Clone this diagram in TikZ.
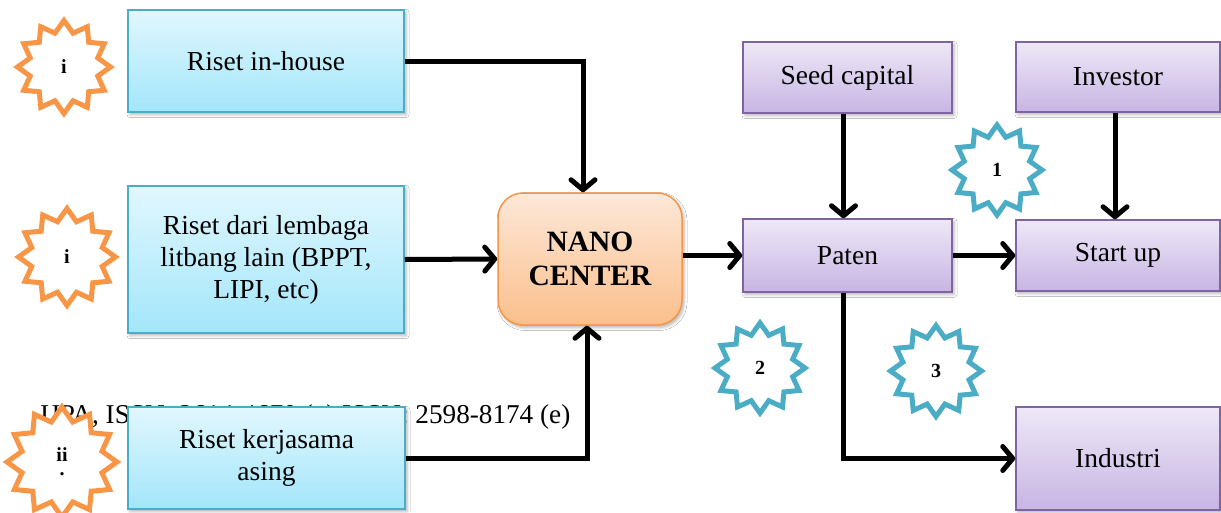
\documentclass[tikz,border=0pt]{standalone}
\usepackage{fontspec}
\setmainfont{Liberation Serif}
\usetikzlibrary{arrows.meta,shapes.geometric,shadows.blur}
\definecolor{orng}{HTML}{F79646}
\definecolor{cyanstar}{HTML}{4BACC6}
\definecolor{bluetop}{HTML}{E1F7FE}
\definecolor{bluebot}{HTML}{A3E6FA}
\definecolor{blueline}{HTML}{4BACC6}
\definecolor{purtop}{HTML}{EEE8F7}
\definecolor{purbot}{HTML}{C7B5E3}
\definecolor{purline}{HTML}{8064A2}
\definecolor{ortop}{HTML}{FDE8D8}
\definecolor{orbot}{HTML}{FBBF8C}
\begin{document}
\begin{tikzpicture}[x=1pt,y=-1pt,
  shad/.style={blur shadow={shadow xshift=2pt,shadow yshift=-2.5pt,shadow blur radius=3pt,shadow opacity=30}},
  boxbase/.style={line width=1.5pt, align=center, inner sep=0pt, shad,
    font=\fontsize{27.5}{32}\selectfont},
  bluebox/.style={boxbase, draw=blueline, top color=bluetop, bottom color=bluebot},
  purbox/.style={boxbase, draw=purline, top color=purtop, bottom color=purbot},
  nanobox/.style={boxbase, draw=orng, top color=ortop, bottom color=orbot,
    rounded corners=25pt, font=\bfseries\fontsize{29.5}{34}\selectfont},
  starbase/.style={star, star points=12, star point ratio=1.33, fill=white,
    line width=5pt, inner sep=0pt, align=center,
    font=\bfseries\fontsize{20}{20}\selectfont},
  staro/.style={starbase, draw=orng},
  starb/.style={starbase, draw=cyanstar},
  conn/.style={line width=5pt, draw=black, -{Straight Barb[length=10pt,width=24pt,round]}},
  journal/.style={anchor=base west, inner sep=0pt, font=\fontsize{27.2}{30}\selectfont}
]
\useasboundingbox (0,0) rectangle (1221,512);
\fill[white] (0,0) rectangle (1221,512);

\node[journal] (jrnl) at (40,423) {IJPA, ISSN: 2614-4670 (p) ISSN: 2598-8174 (e)};

% left boxes
\node[bluebox, minimum width=276pt, minimum height=102pt] (inhouse) at (266,61) {Riset in-house};
\node[bluebox, minimum width=276pt, minimum height=147pt] (lembaga) at (266,259.5) {Riset dari lembaga\\litbang lain (BPPT,\\LIPI, etc)};
\node[bluebox, minimum width=277pt, minimum height=102pt] (kerjasama) at (266.5,458) {Riset kerjasama\\asing};

% centre
\node[nanobox, minimum width=184pt, minimum height=132pt] (nano) at (590,259) {NANO\\CENTER};

% right boxes
\node[purbox, minimum width=209pt, minimum height=71pt] (seed) at (847.5,77.5) {Seed capital};
\node[purbox, minimum width=209pt, minimum height=73pt] (paten) at (847.5,255.5) {Paten};
\node[purbox, minimum width=204pt, minimum height=70pt] (investor) at (1118,77) {Investor};
\node[purbox, minimum width=204pt, minimum height=71pt] (startup) at (1118,255.5) {Start up};
\node[purbox, minimum width=204pt, minimum height=103pt] (industri) at (1118,458.5) {Industri};

% stars
\node[staro, minimum size=93pt] (si1) at (64,67) {i};
\node[staro, minimum size=97pt] (si2) at (67,257) {i};
\node[staro, minimum size=110pt] (sii) at (62,462) {ii\\[-6pt].};
\node[starb, minimum size=90pt] (s1) at (997,170) {1};
\node[starb, minimum size=90pt] (s2) at (760,368) {2};
\node[starb, minimum size=91pt] (s3) at (936,371) {3};

% connectors
\draw[conn] (inhouse.east) -| ([xshift=-7pt]nano.north);
\draw[conn] (lembaga.east) -- (nano.west);
\draw[conn] (kerjasama.east) -| ([xshift=-3pt]nano.south);
\draw[conn] (nano.east |- paten.west) -- (paten.west);
\draw[conn] ([xshift=-4pt]seed.south) -- ([xshift=-4pt]paten.north);
\draw[conn] (paten.east) -- (paten.east -| startup.west);
\draw[conn] ([xshift=-3pt]investor.south) -- ([xshift=-3pt]startup.north);
\draw[conn] ([xshift=-4pt]paten.south) |- (industri.west);
\end{tikzpicture}
\end{document}
